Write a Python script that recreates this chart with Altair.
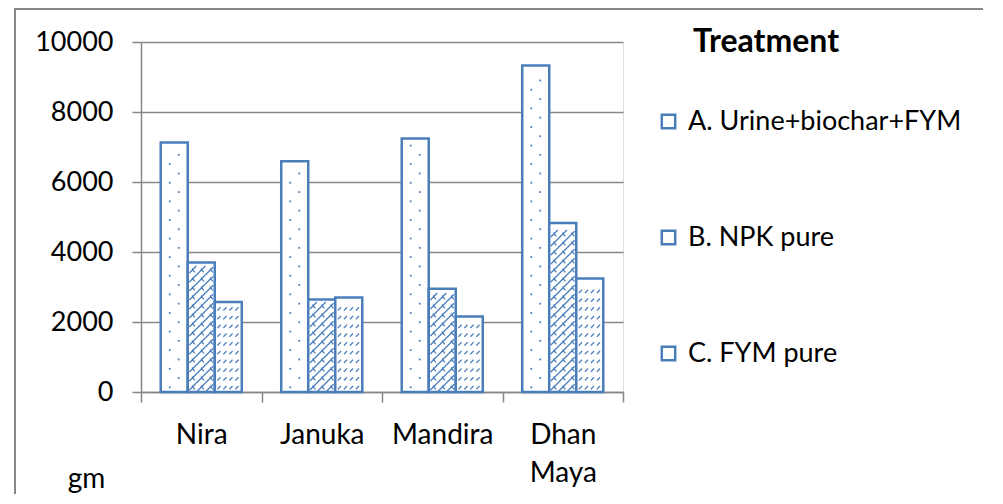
import altair as alt
import pandas as pd

# ---- data ----
varieties = ["Nira", "Januka", "Mandira", "Dhan Maya"]
treatments = ["A. Urine+biochar+FYM", "B. NPK pure", "C. FYM pure"]
val_a = [7130, 6590, 7240, 9330]
val_b = [3700, 2640, 2950, 4830]
val_c = [2570, 2700, 2160, 3240]
y_ticks = [0, 2000, 4000, 6000, 8000, 10000]

rows = []
for vals, t in zip([val_a, val_b, val_c], treatments):
    for v, val in zip(varieties, vals):
        rows.append({"variety": v, "treatment": t, "value": val})
df = pd.DataFrame(rows)

# ---- style ----
BLUE = "#4A7EBB"
GRAY = "#878787"
FONT = "Lato"
W, H = 482, 350
BAR_PX = 27.0            # bar width in px (from scales below)
UNIT = 10000 / H         # data units per px
HALF = BAR_PX / 2        # custom symbol scale (px per unit coord)

x_scale = alt.Scale(domain=varieties, paddingInner=0, paddingOuter=0)
x_axis = alt.Axis(title=None, labelFont=FONT, labelFontSize=28, labelColor="black",
                  labelAngle=0, labelPadding=19, tickSize=10, tickColor=GRAY,
                  tickWidth=1.5, domainColor=GRAY, domainWidth=1.5, tickBand="extent",
                  labelExpr="split(datum.label, ' ')", labelLineHeight=38, grid=False)
y_scale = alt.Scale(domain=[0, 10000], nice=False)
y_axis = alt.Axis(values=y_ticks, format="d", title="gm", titleAngle=0, titleX=-55,
                  titleY=445, titleAlign="center", titleBaseline="alphabetic",
                  titleFont=FONT, titleFontSize=28, titleFontWeight="normal",
                  titleColor="black", labelFont=FONT, labelFontSize=27,
                  labelColor="black", labelPadding=19, tickSize=9, tickColor=GRAY,
                  tickWidth=1.5, domainColor=GRAY, domainWidth=1.5, gridColor=GRAY,
                  gridWidth=1.5)
xo_enc = alt.XOffset("treatment:N", scale=alt.Scale(domain=treatments, paddingOuter=0.73, paddingInner=0))

bars = alt.Chart(df).mark_bar(stroke=BLUE, strokeWidth=2.5).encode(
    x=alt.X("variety:N", scale=x_scale, axis=x_axis),
    xOffset=xo_enc,
    y=alt.Y("value:Q", scale=y_scale, axis=y_axis),
    fill=alt.Fill("treatment:N", scale=alt.Scale(domain=treatments, range=["white"] * 3),
                  legend=alt.Legend(orient="none", legendX=514, legendY=66, title=None,
                                    symbolType="square", symbolSize=180,
                                    symbolStrokeColor=BLUE, symbolStrokeWidth=2.5,
                                    symbolFillColor="white", labelFont=FONT,
                                    labelFontSize=27, labelColor="black", labelOffset=6,
                                    rowPadding=88, padding=0, labelLimit=400)),
)


def u(px):
    return px / HALF


def clip_seg(x0, y0, x1, y1, lo, hi):
    if x0 > x1:
        x0, y0, x1, y1 = x1, y1, x0, y0
    if x1 < lo or x0 > hi:
        return None
    def yat(x):
        return y0 + (y1 - y0) * (x - x0) / (x1 - x0)
    nx0, nx1 = max(x0, lo), min(x1, hi)
    return nx0, yat(nx0), nx1, yat(nx1)


INNER = HALF - 1.6   # inner half width in px


def seg_path(segs):
    out = []
    for s in segs:
        c = clip_seg(*s, -INNER, INNER)
        if c:
            out.append("M%.3f,%.3fL%.3f,%.3f" % (u(c[0]), u(c[1]), u(c[2]), u(c[3])))
    return "".join(out)


def dot_path(xpx, r=0.9):
    return "M%.3f,%.3fh%.3fv%.3fh%.3fz" % (u(xpx - r), u(-r), u(2 * r), u(2 * r), u(-2 * r))


hA = 9.3
hB = 9.0
hC = 8.75
pathA_left = dot_path(-4.5)
pathA_right = dot_path(4.5)
segB = []
for k in range(-3, 5):
    x = -INNER + k * 9 - 2
    segB.append((x, hB / 2, x + hB, -hB / 2))
    segB.append((x + 4.5, -1.8, x + 7.5, 1.8))
pathB = seg_path(segB)
segC = []
for k in range(-1, 6):
    x = -INNER + k * 6 + 1
    segC.append((x, 1.6, x + 3.2, -1.6))
pathC = seg_path(segC)


def pattern_layer(tname, tile_px, path, parity=None, filled=False, sw=1.2):
    hu = tile_px * UNIT
    margin = 1.8 * UNIT
    ch = alt.Chart(df).transform_filter(alt.datum.treatment == tname).transform_calculate(
        ys="sequence(%f, datum.value - %f, %f)" % (hu / 2, hu / 2 + margin - 0.001, hu)
    ).transform_flatten(["ys"])
    if parity is not None:
        ch = ch.transform_filter("floor(datum.ys / %f) %% 2 == %d" % (hu, parity))
    if filled:
        mk = ch.mark_point(shape=path, size=BAR_PX ** 2, filled=True, color=BLUE,
                           strokeWidth=0, opacity=1)
    else:
        mk = ch.mark_point(shape=path, size=BAR_PX ** 2, filled=False, color=BLUE,
                           strokeWidth=sw, opacity=1)
    return mk.encode(
        x=alt.X("variety:N", scale=x_scale, axis=x_axis),
        xOffset=xo_enc,
        y=alt.Y("ys:Q", scale=y_scale, axis=y_axis),
    )


patA1 = pattern_layer(treatments[0], hA, pathA_left, parity=0, filled=True)
patA2 = pattern_layer(treatments[0], hA, pathA_right, parity=1, filled=True)
patB = pattern_layer(treatments[1], hB, pathB, sw=1.3)
patC = pattern_layer(treatments[2], hC, pathC, sw=1.2)

one = pd.DataFrame({"a": [0]})
frame_left = alt.Chart(one).mark_rule(color=GRAY, strokeWidth=2).encode(
    x=alt.value(-126), y=alt.value(-33), y2=alt.value(470))
frame_top = alt.Chart(one).mark_rule(color=GRAY, strokeWidth=2).encode(
    x=alt.value(-127), x2=alt.value(900), y=alt.value(-33))
legend_title = alt.Chart(one).mark_text(
    text="Treatment", font=FONT, fontSize=32, fontWeight="bold", color="black",
    align="left", baseline="alphabetic").encode(x=alt.value(552), y=alt.value(10))

chart = alt.layer(bars, patA1, patA2, patB, patC, frame_left, frame_top, legend_title).properties(
    width=W, height=H,
    autosize=alt.AutoSizeParams(type="none"),
    padding={"left": 133, "top": 34, "right": 360, "bottom": 102},
).configure_view(strokeWidth=0).configure(background="white")

chart.save("out.html", embed_options={"renderer": "svg", "actions": False})
